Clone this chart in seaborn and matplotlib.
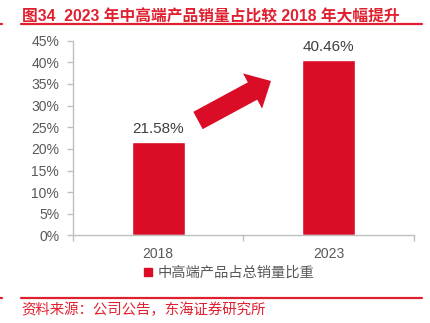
import matplotlib
matplotlib.use("Agg")
import matplotlib.pyplot as plt
import seaborn as sns
import pandas as pd
from matplotlib.patches import Patch, FancyArrow
from matplotlib.lines import Line2D
from matplotlib.ticker import PercentFormatter

years = ["2018", "2023"]
share = [21.58, 40.46]
series_name = "中高端产品占总销量比重"
title = "图34  2023 年中高端产品销量占比较 2018 年大幅提升"
source = "资料来源：公司公告，东海证券研究所"
yticks = [0, 5, 10, 15, 20, 25, 30, 35, 40, 45]

sns.set_style("white")
FAM = ["Liberation Sans", "Noto Sans CJK SC", "DejaVu Sans"]
plt.rcParams["font.family"] = FAM

RED = "#DA0C26"
TRED = "#E0202F"
GRAY = "#595959"
AX = "#BFBFBF"

df = pd.DataFrame({"year": years, "share": share})

fig = plt.figure(figsize=(4.30, 3.23), dpi=100)
ax = fig.add_axes([0.1698, 0.2709, 0.7921, 0.6034])
sns.barplot(data=df, x="year", y="share", color=RED, width=0.311,
            saturation=1, ax=ax)

ax.set_ylim(0, 45)
ax.set_xlim(-0.5, 1.5)
ax.set_yticks(yticks)
ax.yaxis.set_major_formatter(PercentFormatter(decimals=0))
ax.set_xlabel("")
ax.set_ylabel("")
for s in ["top", "right"]:
    ax.spines[s].set_visible(False)
for s in ["left", "bottom"]:
    ax.spines[s].set_color(AX)
    ax.spines[s].set_linewidth(1.0)
ax.tick_params(axis="y", length=4, width=1, color=AX, labelcolor=GRAY,
               labelsize=10, pad=6, left=True)
ax.set_xticks([0, 1])
ax.set_xticklabels(years)
ax.tick_params(axis="x", length=0, labelcolor=GRAY, labelsize=10, pad=8)
ax.set_xticks([-0.5, 0.5, 1.5], minor=True)
ax.tick_params(axis="x", which="minor", length=4, width=1, color=AX, bottom=True)

for i, v in enumerate(share):
    ax.text(i, v + 1.5, f"{v:.2f}%", ha="center", va="bottom",
            fontsize=11, color="#404040")

# arrow (figure inches)
ar = FancyArrow(1.98, 2.025, 0.73, 0.395, width=0.197, head_width=0.40,
                head_length=0.21, length_includes_head=True,
                transform=fig.dpi_scale_trans, color=RED, lw=0)
fig.patches.append(ar)

leg = fig.legend(handles=[Patch(facecolor=RED, edgecolor=RED, label=series_name)],
                 loc="center", bbox_to_anchor=(0.534, 0.155), frameon=False,
                 fontsize=10.3, handlelength=0.55, handleheight=0.55,
                 handletextpad=0.4, labelcolor=GRAY)

fig.text(0.050, 0.9475, title, fontsize=11.35, fontweight="bold", color=TRED,
         ha="left", va="center")
fig.add_artist(Line2D([0.048, 0.982], [0.925, 0.925], color=TRED, lw=1.6))
fig.add_artist(Line2D([0.0, 0.005], [0.925, 0.925], color=TRED, lw=1.6))
fig.add_artist(Line2D([0.048, 0.982], [0.0765, 0.0765], color=TRED, lw=1.6))
fig.add_artist(Line2D([0.0, 0.005], [0.0765, 0.0765], color=TRED, lw=1.6))
fig.text(0.050, 0.042, source, fontsize=10.4, color=TRED, ha="left", va="center")

fig.savefig("out.png", dpi=100)
